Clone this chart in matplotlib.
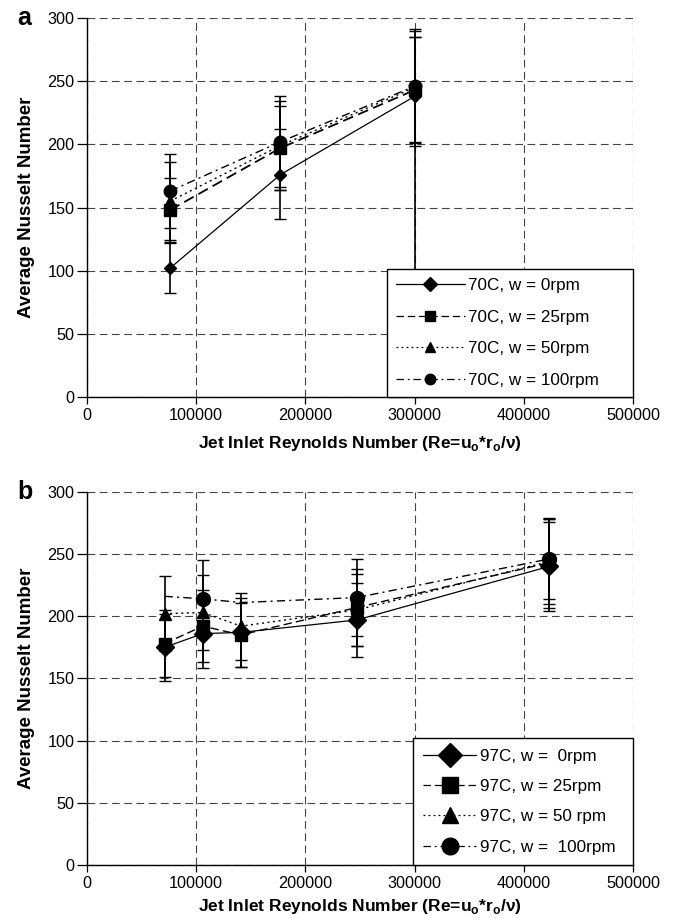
import matplotlib
matplotlib.use("Agg")
import matplotlib.pyplot as plt
from matplotlib.lines import Line2D
import numpy as np

plt.rcParams['font.family'] = ['Liberation Sans', 'DejaVu Sans']
plt.rcParams['font.size'] = 11

# 70C runs (panel a)
re_70 = [76000, 177000, 300000]
nu70_0 = [102, 176, 238]
err70_0_lo = [20, 35, 238]
err70_0_hi = [20, 36, 47]
nu70_25 = [148, 197, 243]
err70_25 = [25, 33, 42]
nu70_50 = [155, 199, 245]
err70_50 = [31, 35, 46]
nu70_100 = [163, 202, 246]
err70_100 = [29, 36, 44]
labels_70 = ['70C, w = 0rpm', '70C, w = 25rpm', '70C, w = 50rpm', '70C, w = 100rpm']

# 97C runs (panel b)
re_97 = [71000, 106000, 141000, 247000, 423000]
nu97_0 = [175, 186, 187, 197, 240]
err97_0 = [27, 28, 28, 30, 36]
nu97_25 = [178, 192, 185, 207, 243]
err97_25 = [27, 29, 26, 31, 36]
nu97_50 = [202, 203, 192, 205, 244]
err97_50 = [30, 30, 27, 29, 34]
nu97_100 = [216, 214, 211, 215, 246]
err97_100 = [31, 31, 31, 31, 32]
pts97_100 = [1, 3, 4]   # points of the 100rpm run carrying a marker / error bar
labels_97 = ['97C, w =  0rpm', '97C, w = 25rpm', '97C, w = 50 rpm', '97C, w =  100rpm']

x_ticks = [0, 100000, 200000, 300000, 400000, 500000]
y_ticks = [0, 50, 100, 150, 200, 250, 300]

styles = [
    dict(ls='-', marker='D'),
    dict(ls=(0, (6, 3)), marker='s'),
    dict(ls=(0, (1.5, 2.5)), marker='^'),
    dict(ls=(0, (6, 3, 1.5, 3)), marker='o'),
]


def style_axes(ax, letter, xpad):
    ax.set_xlim(0, 500000)
    ax.set_ylim(0, 300)
    ax.set_xticks(x_ticks)
    ax.set_yticks(y_ticks)
    ax.set_xticklabels([str(v) for v in x_ticks])
    ax.set_yticklabels([str(v) for v in y_ticks])
    ax.spines['top'].set_visible(False)
    ax.spines['right'].set_visible(False)
    for s in ('left', 'bottom'):
        ax.spines[s].set_linewidth(1.0)
    ax.grid(True, color='#444444', lw=0.8, ls=(0, (7, 4)), zorder=0)
    ax.set_axisbelow(True)
    ax.tick_params(axis='y', direction='out', length=7, width=0.9, pad=2, labelsize=11.7)
    ax.tick_params(axis='x', direction='out', length=5, width=0.9, pad=3, labelsize=11.7)
    ax.set_ylabel('Average Nusselt Number', fontweight='bold', fontsize=13.5, labelpad=9)
    ax.set_xlabel('Jet Inlet Reynolds Number (Re=u$_\\mathregular{o}$*r$_\\mathregular{o}$/ν)',
                  fontweight='bold', fontsize=12.5, labelpad=xpad)
    ax.text(-0.128, 1.0, letter, transform=ax.transAxes, fontsize=18, fontweight='bold',
            va='center', ha='left')


def draw_series(ax, x, y, yerr, st, ms, lw, show=None):
    x = np.asarray(x)
    y = np.asarray(y)
    idx = list(range(len(x))) if show is None else show
    ax.plot(x, y, color='black', ls=st['ls'], lw=lw, zorder=3)
    ax.errorbar(x, y, yerr=yerr, fmt='none', ecolor='black', elinewidth=1.2,
                capsize=4, capthick=1.0, errorevery=idx, zorder=4)
    ax.plot(x[idx], y[idx], ls='none', marker=st['marker'], ms=ms, color='black', zorder=5)


def add_legend(ax, labels, ms, handlelength, bbox, pad, spacing):
    handles = [Line2D([], [], color='black', lw=0.9, ls=st['ls'], marker=st['marker'], ms=ms)
               for st in styles]
    leg = ax.legend(handles, labels, loc='lower left', bbox_to_anchor=bbox, mode='expand',
                    borderaxespad=0, frameon=True, fancybox=False, framealpha=1,
                    edgecolor='black', fontsize=12.3, handlelength=handlelength,
                    handletextpad=0.2, labelspacing=spacing, borderpad=pad)
    leg.get_frame().set_linewidth(1.0)
    leg.set_zorder(10)


fig = plt.figure(figsize=(6.8, 9.19), dpi=100)
ax_a = fig.add_axes([0.128, 0.568, 0.803, 0.4124])
ax_b = fig.add_axes([0.128, 0.0588, 0.803, 0.406])

# panel a
draw_series(ax_a, re_70, nu70_0, [err70_0_lo, err70_0_hi], styles[0], 6, 0.9)
draw_series(ax_a, re_70, nu70_25, err70_25, styles[1], 8, 1.3)
draw_series(ax_a, re_70, nu70_50, err70_50, styles[2], 8, 1.0)
draw_series(ax_a, re_70, nu70_100, err70_100, styles[3], 9, 1.0)
style_axes(ax_a, 'a', 8)
add_legend(ax_a, labels_70, 7.5, 4.0, (0.549, 0.0, 0.451, 0.35), 0.55, 0.96)

# panel b
draw_series(ax_b, re_97, nu97_0, err97_0, styles[0], 9, 0.9)
draw_series(ax_b, re_97, nu97_25, err97_25, styles[1], 9, 1.0)
draw_series(ax_b, re_97, nu97_50, err97_50, styles[2], 9, 1.0)
draw_series(ax_b, re_97, nu97_100, err97_100, styles[3], 10, 1.0, show=pts97_100)
style_axes(ax_b, 'b', 4)
add_legend(ax_b, labels_97, 12, 3.1, (0.597, 0.0, 0.403, 0.35), 0.6, 0.9)

fig.savefig('out.png', dpi=100)
